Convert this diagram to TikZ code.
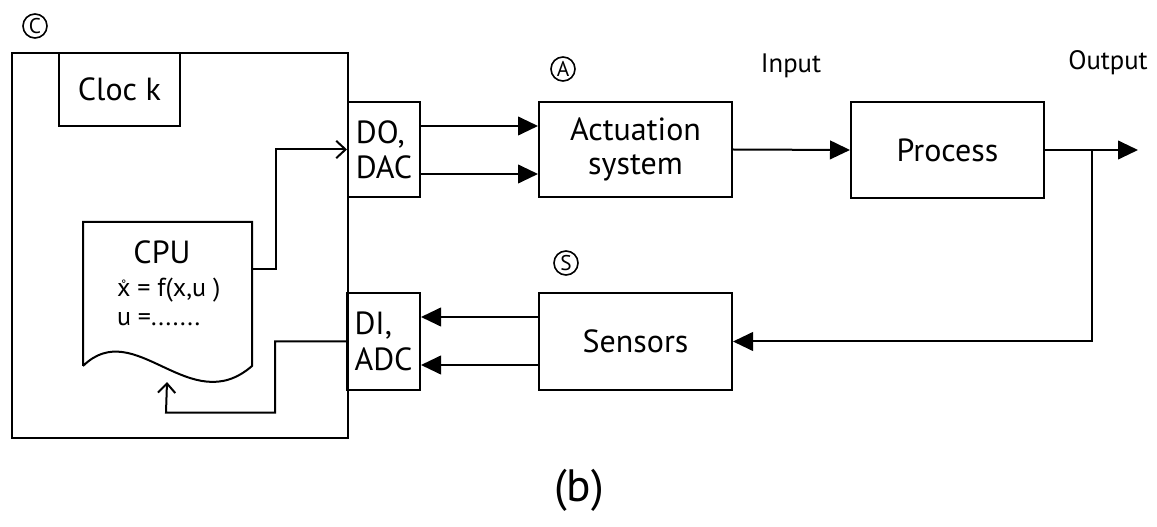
\documentclass[tikz,border=0pt]{standalone}
\usepackage{fontspec}
\setmainfont{PT Sans}
\usetikzlibrary{arrows.meta}

\newcommand{\xring}{\ooalign{x\cr\hidewidth\raisebox{6pt}{\fontsize{9}{9}\selectfont °}\hidewidth\cr}}

\begin{document}
\begin{tikzpicture}
  [x=0.75pt,y=-0.75pt,line width=1.5pt,
   blk/.style={draw,rectangle,inner sep=0pt,align=center,font=\fontsize{24}{26}\selectfont},
   txt/.style={inner sep=0pt,font=\fontsize{24}{26}\selectfont},
   small/.style={inner sep=0pt,font=\fontsize{20}{22}\selectfont},
   circled/.style={draw,circle,line width=1.2pt,minimum size=18pt,inner sep=0pt,font=\fontsize{16}{16}\selectfont},
   tri/.style={-{Triangle[length=15pt,width=14pt]}},
   barb/.style={-{Straight Barb[length=7pt,width=13pt,line width=1.5pt]}}] % px coordinates, y downwards
  \useasboundingbox (0,0) rectangle (1157,527);

  % computer
  \node[blk,minimum width=252pt,minimum height=288.75pt] (comp) at (180,245.5) {};
  \node[blk,minimum width=90.75pt,minimum height=54.75pt] (clock) at (119.5,89.5) {Cloc k};
  \node[circled] (cmark) at (35,26) {C};

  % cpu program sheet
  \draw (83,366) -- (83,222) -- (252,222) -- (252,366)
        .. controls (190,420) and (135,315) .. (83,366);
  \node[txt] (cpu) at (162,252) {CPU};
  \node[small,anchor=west,font=\fontsize{19.5}{22}\selectfont] (eq1) at (116,290) {\xring{} = f(x,u )};
  \node[small,anchor=west,font=\fontsize{19.5}{22}\selectfont] (eq2) at (116,319) {u =.......};
  \coordinate (cpuout) at (252,269);
  \coordinate (cpuin) at (167,382);

  % interfaces
  \node[blk,align=left,minimum width=54pt,minimum height=71.25pt] (do) at (384,149.5) {DO,\\DAC};
  \node[blk,align=left,minimum width=54.75pt,minimum height=72.75pt,font=\fontsize{24}{27}\selectfont] (di) at (383.5,341.5) {DI,\\ADC};

  % plant side
  \node[blk,minimum width=144.75pt,minimum height=71.25pt] (act) at (635.5,149.5) {Actuation\\system};
  \node[blk,minimum width=144.75pt,minimum height=72pt] (proc) at (947.5,150) {Process};
  \node[blk,minimum width=144.75pt,minimum height=72.75pt] (sens) at (635.5,341.5) {Sensors};
  \node[circled] (amark) at (563,69) {A};
  \node[circled] (smark) at (566,263) {S};
  \node[small] (inp) at (791,66) {Input};
  \node[small] (outp) at (1108,63) {Output};
  \coordinate (out) at (1138,150);
  \coordinate (tap) at (1092,150);

  \node[inner sep=0pt,font=\fontsize{34}{36}\selectfont] (b) at (579,490) {(b)};

  % connections
  \draw[barb] (cpuout) -- ++(24,0) |- (do.west);
  \draw[barb] (di.west) -- ++(-71,0) |- ++(-109,71) -- (cpuin);
  \draw[tri] (do.east |- 0,126) -- (act.west |- 0,126);
  \draw[tri] (do.east |- 0,174) -- (act.west |- 0,174);
  \draw[tri] (act.east) -- (proc.west);
  \draw[tri] (proc.east) -- (out);
  \draw[tri] (tap) |- (sens.east);
  \draw[tri] (sens.west |- 0,317) -- (di.east |- 0,317);
  \draw[tri] (sens.west |- 0,365) -- (di.east |- 0,365);
\end{tikzpicture}
\end{document}
